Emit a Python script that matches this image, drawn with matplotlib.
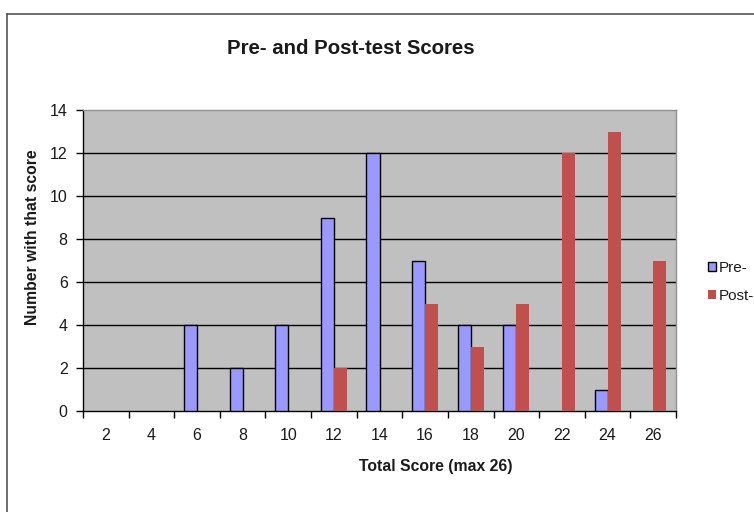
import matplotlib
matplotlib.use("Agg")
import matplotlib.pyplot as plt
from matplotlib.patches import Patch
from matplotlib.lines import Line2D
import numpy as np

plt.rcParams['font.family'] = ['Liberation Sans', 'DejaVu Sans']

scores = ['2', '4', '6', '8', '10', '12', '14', '16', '18', '20', '22', '24', '26']
pre = [0, 0, 4, 2, 4, 9, 12, 7, 4, 4, 0, 1, 0]
post = [0, 0, 0, 0, 0, 2, 0, 5, 3, 5, 12, 13, 7]

pre_color = '#9999FF'
post_color = '#C0504D'
text_color = '#1a1a1a'

fig = plt.figure(figsize=(7.54, 5.12), dpi=100)
fig.patch.set_facecolor('white')
# outer chart border (left and top edges visible)
bx, by = 6.5/754, 1 - 13.5/512
fig.add_artist(Line2D([bx, bx], [-0.05, by], transform=fig.transFigure, color='#555555', linewidth=1.2))
fig.add_artist(Line2D([bx, 1.05], [by, by], transform=fig.transFigure, color='#555555', linewidth=1.2))

ax = fig.add_axes([83/754, 1 - 411/512, (676 - 83)/754, (411 - 110)/512])
ax.set_facecolor('#C0C0C0')

x = np.arange(len(scores))
w = 1 / 3.5
ax.bar(x - w/2, pre, width=w, color=pre_color, edgecolor='black',
       linewidth=[1.0 if v > 0 else 0 for v in pre], zorder=3, label='Pre-')
ax.bar(x + w/2, post, width=w, color=post_color, edgecolor='none', linewidth=0, zorder=3, label='Post-')

ax.set_xlim(-0.5, len(scores) - 0.5)
ax.set_ylim(0, 14)
ax.set_yticks(range(0, 15, 2))
ax.set_yticklabels([str(v) for v in range(0, 15, 2)], fontsize=11.5, color=text_color)
for yv in range(2, 14, 2):
    ax.axhline(yv, color='black', linewidth=1.0, zorder=2)

ax.set_xticks(np.arange(-0.5, len(scores), 1.0))
ax.set_xticklabels([])
ax.set_xticks(x, minor=True)
ax.set_xticklabels(scores, minor=True, fontsize=11.5, color=text_color)
ax.tick_params(axis='x', which='major', direction='out', length=5, width=1, color='black')
ax.tick_params(axis='x', which='minor', length=0, pad=12.5)
ax.tick_params(axis='y', direction='out', length=5, width=1, color='black', pad=6)

for s in ['left', 'bottom']:
    ax.spines[s].set_color('black')
    ax.spines[s].set_linewidth(1.0)
for s in ['top', 'right']:
    ax.spines[s].set_color('#909090')
    ax.spines[s].set_linewidth(1.0)

fig.text(436/754, 1 - 467/512, 'Total Score (max 26)', ha='center', va='center',
         fontsize=11.3, fontweight='bold', color=text_color)
fig.text(33/754, 1 - 237/512, 'Number with that score', ha='center', va='center',
         rotation=90, fontsize=11.3, fontweight='bold', color=text_color)

fig.text(351/754, 1 - 49/512, 'Pre- and Post-test Scores', ha='center', va='center',
         fontsize=14.7, fontweight='bold', color=text_color)

handles = [Patch(facecolor=pre_color, edgecolor='black', linewidth=1.0, label='Pre-'),
           Patch(facecolor=post_color, edgecolor='none', label='Post-')]
leg = fig.legend(handles=handles, loc='center left', bbox_to_anchor=(700/754, 1 - 282/512),
                 frameon=False, fontsize=11, handlelength=0.55, handleheight=0.55,
                 handletextpad=0.2, labelspacing=0.95, borderpad=0)
for t in leg.get_texts():
    t.set_color(text_color)

fig.savefig('out.png', dpi=100)
